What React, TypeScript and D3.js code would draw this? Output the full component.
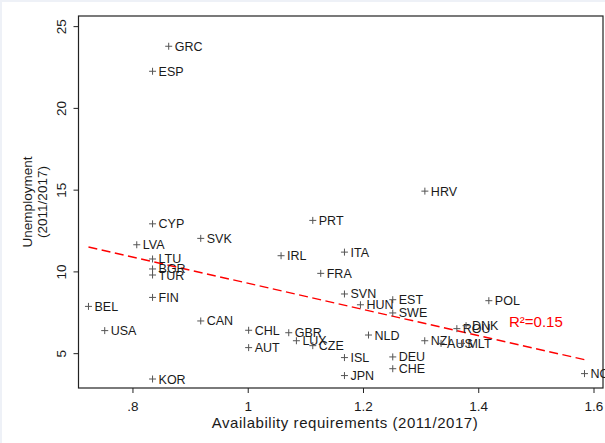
import React from "react";
import * as d3 from "d3";

const countries = ["GRC","ESP","HRV","PRT","CYP","SVK","LVA","IRL","ITA","LTU","BGR","TUR","FRA","FIN","SVN","EST","HUN","SWE","POL","BEL","CAN","USA","CHL","GBR","ROU","DNK","NZL","AUS","MLT","NLD","LUX","CZE","AUT","ISL","DEU","CHE","JPN","KOR","NOR"];
const availability = [0.862,0.834,1.3065,1.112,0.834,0.9176,0.8066,1.057,1.167,0.834,0.834,0.834,1.1258,0.834,1.167,1.2508,1.1947,1.2508,1.4175,0.7228,0.9176,0.751,1.0007,1.0703,1.362,1.378,1.3063,1.3346,1.37,1.2087,1.0836,1.112,1.0007,1.167,1.2508,1.2508,1.167,0.834,1.5835];
const unemployment = [23.8,22.27,14.94,13.15,12.94,12.05,11.66,10.99,11.21,10.79,10.18,9.81,9.91,8.44,8.65,8.3,7.99,7.49,8.24,7.89,7.0,6.41,6.43,6.28,6.53,6.71,5.79,5.63,5.63,6.14,5.79,5.49,5.37,4.76,4.8,4.08,3.66,3.45,3.78];
const xTicks = [0.8, 1.0, 1.2, 1.4, 1.6];
const xTickLabels = [".8", "1", "1.2", "1.4", "1.6"];
const yTicks = [5, 10, 15, 20, 25];
const fitX = [0.7228, 1.5835];
const fitY = [11.52, 4.63];
const r2Label = "R²=0.15";

const W = 605, H = 443;
const L = 78.5, R = 603, T = 16, B = 388;
const FONT = "'Liberation Sans', Arial, Helvetica, sans-serif";

export default function App() {
  const x = d3.scaleLinear().domain([0.7055, 1.6156]).range([L, R]);
  const y = d3.scaleLinear().domain([2.9, 25.65]).range([B, T]);
  const line = d3.line<number>().x((d, i) => x(fitX[i])).y((d, i) => y(fitY[i]));
  const pts = countries.map((c, i) => ({ c, px: x(availability[i]), py: y(unemployment[i]) }));
  return (
    <svg width={W} height={H} style={{ position: "absolute", left: 0, top: 0, display: "block" }}>
      <rect x={0} y={0} width={W} height={H} fill="#eef1f7" />
      <rect x={2} y={2} width={W - 2} height={H - 2} fill="#ffffff" />
      <path d={line(fitY) || ""} fill="none" stroke="#ff0000" strokeWidth={1.4} strokeDasharray="9,4.5" />
      {pts.map((p) => (
        <g key={p.c}>
          <path d={`M${p.px - 3.5},${p.py}H${p.px + 3.5}M${p.px},${p.py - 3.5}V${p.py + 3.5}`} stroke="#555" strokeWidth={1} />
          <text x={p.px + 6} y={p.py + 4.5} fontFamily={FONT} fontSize={12.5} fill="#1a1a1a">{p.c}</text>
        </g>
      ))}
      <text x={509} y={327} fontFamily={FONT} fontSize={15} fill="#ff0000">{r2Label}</text>
      <rect x={L} y={T} width={R - L} height={B - T} fill="none" stroke="#222" strokeWidth={1.2} />
      {xTicks.map((t, i) => (
        <g key={t}>
          <line x1={x(t)} x2={x(t)} y1={B} y2={B + 5} stroke="#222" strokeWidth={1} />
          <text x={x(t)} y={411} textAnchor="middle" fontFamily={FONT} fontSize={13.5} fill="#1a1a1a">{xTickLabels[i]}</text>
        </g>
      ))}
      {yTicks.map((t) => (
        <g key={t}>
          <line x1={L - 5} x2={L} y1={y(t)} y2={y(t)} stroke="#222" strokeWidth={1} />
          <text transform={`translate(66,${y(t)}) rotate(-90)`} textAnchor="middle" fontFamily={FONT} fontSize={13.5} fill="#1a1a1a">{t}</text>
        </g>
      ))}
      <text x={345} y={428} textAnchor="middle" fontFamily={FONT} fontSize={15} letterSpacing={0.55} fill="#1a1a1a">Availability requirements (2011/2017)</text>
      <text transform={`translate(32,${(T + B) / 2}) rotate(-90)`} textAnchor="middle" fontFamily={FONT} fontSize={13.5} fill="#1a1a1a">Unemployment</text>
      <text transform={`translate(47,${(T + B) / 2}) rotate(-90)`} textAnchor="middle" fontFamily={FONT} fontSize={13.5} fill="#1a1a1a">(2011/2017)</text>
    </svg>
  );
}
